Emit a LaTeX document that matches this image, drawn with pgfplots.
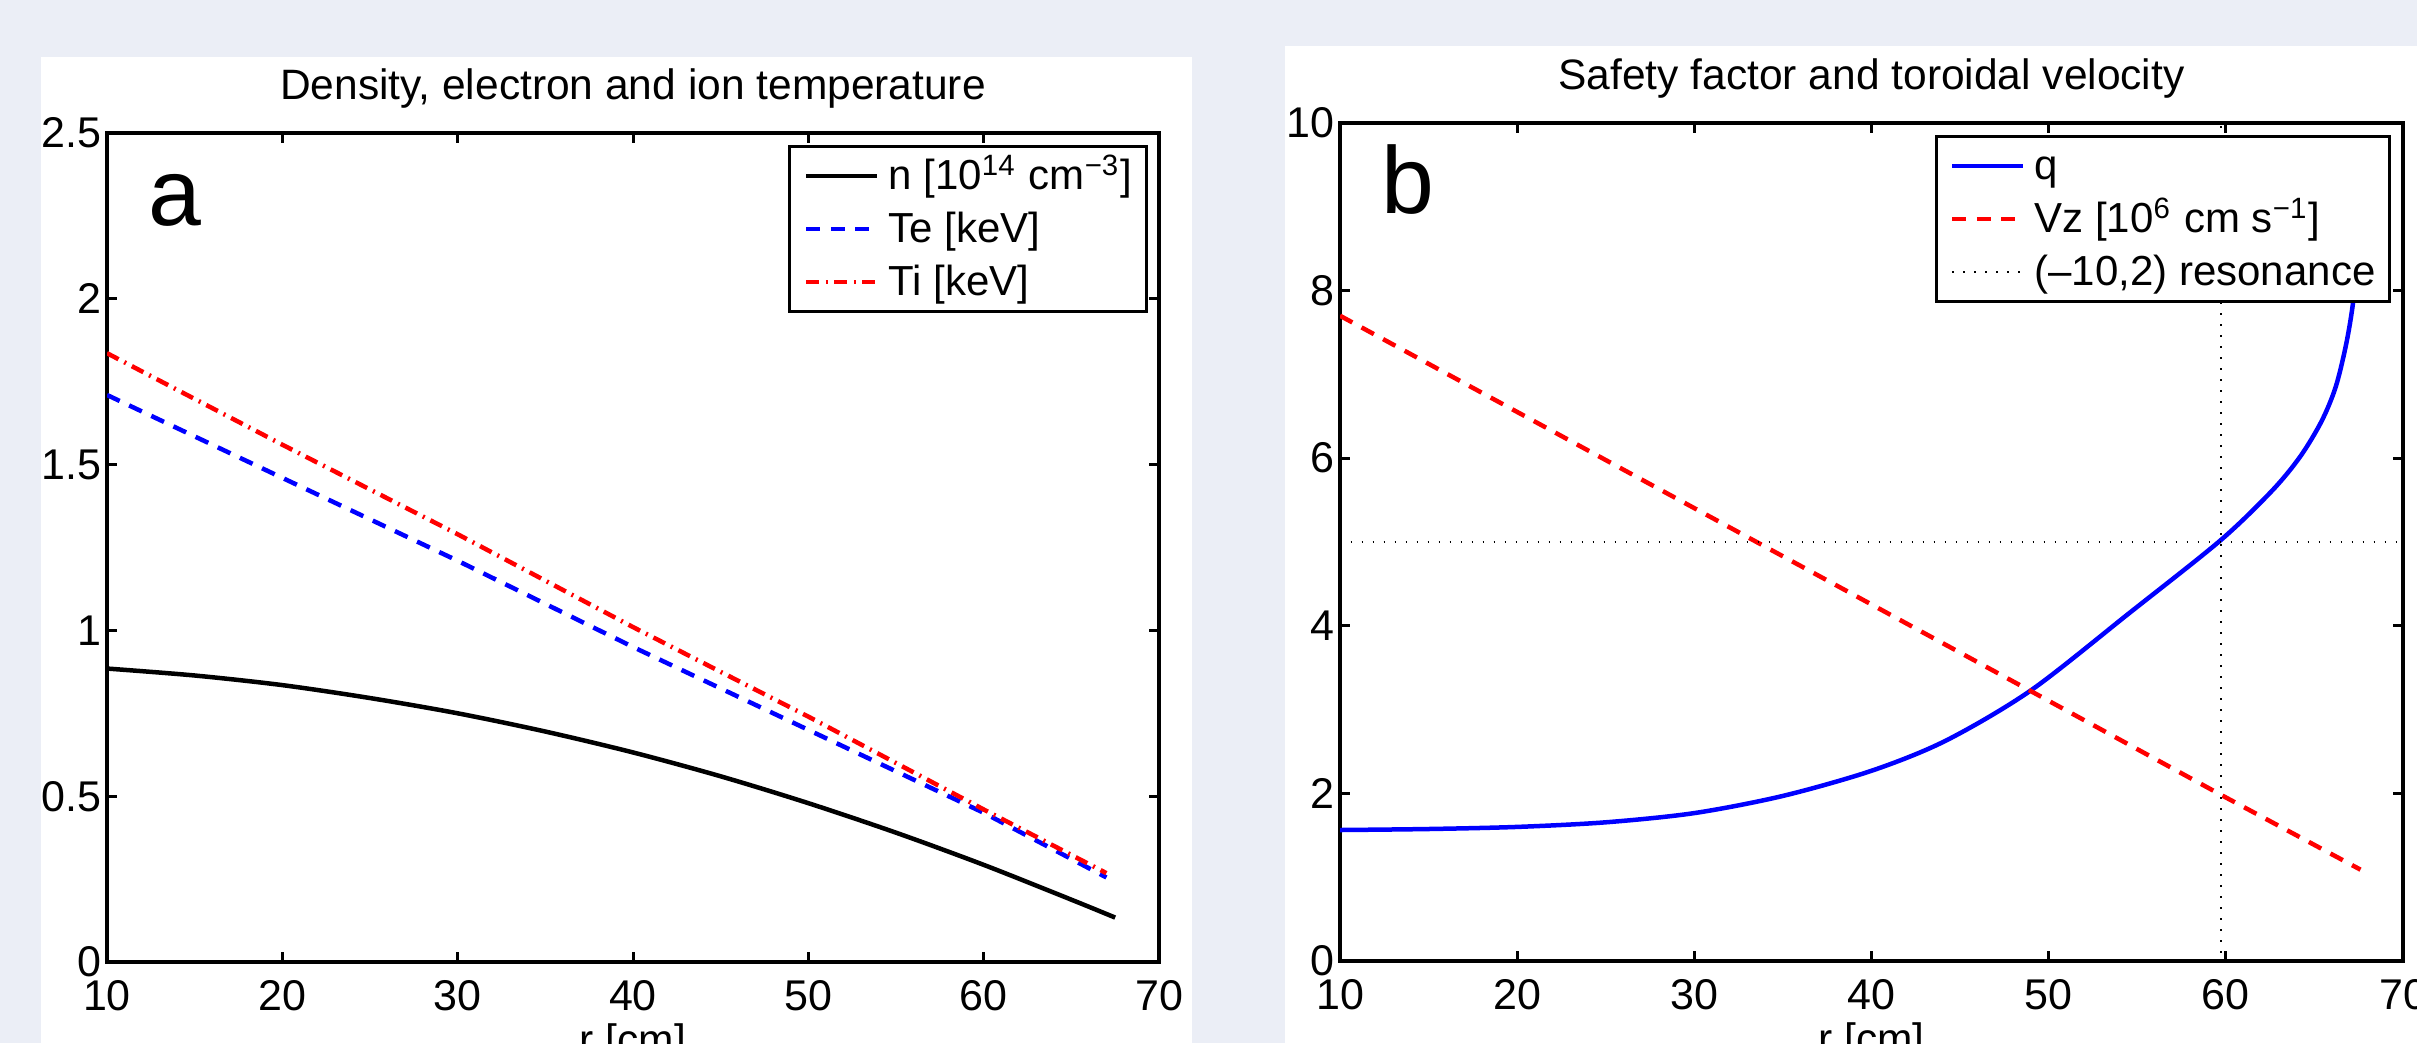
\documentclass[border=0pt]{standalone}
\usepackage{fontspec}
\setmainfont{Liberation Sans}
\usepackage{pgfplots}
\pgfplotsset{compat=1.18}
\definecolor{bgblue}{RGB}{235,238,246}

\pgfplotsset{
  matfig/.style={
    scale only axis, anchor=south west,
    xmin=10, xmax=70, xtick={10,20,...,70},
    tick align=inside, major tick length=2pt,
    axis line style={line width=0.65pt},
    every tick/.style={black, line width=0.6pt},
    tick label style={font=\fontsize{8.6}{10}\selectfont},
    /pgf/number format/assume math mode=true,
    xticklabel style={inner sep=0pt, anchor=north, yshift=-3.4pt},
    yticklabel style={inner sep=0pt, anchor=east, xshift=-0.9pt},
    every axis title shift=0pt,
    title style={at={(axis description cs:0.5,1)}, anchor=base, yshift=6.6pt,
      inner sep=0pt, font=\fontsize{8.5}{10}\selectfont},
    xlabel style={at={(axis description cs:0.5,0)}, anchor=north, inner sep=0pt,
      yshift=-12.2pt, font=\fontsize{8.5}{10}\selectfont},
    legend cell align=left,
    legend image code/.code={\draw[##1] (0pt,0pt) -- (14.2pt,0pt);},
    legend style={anchor=north east, draw=black, line width=0.6pt, fill=white,
      font=\fontsize{8.4}{10}\selectfont, inner xsep=2.8pt, inner ysep=0.6pt,
      row sep=0pt, column sep=1.8pt,
      nodes={inner sep=0pt, text height=8pt, text depth=2.6pt}},
  },
  dashedline/.style={dash pattern=on 2.8pt off 2.1pt},
  dashdotline/.style={dash pattern=on 2.6pt off 1.3pt on 0.4pt off 1.3pt},
  dottedline/.style={dash pattern=on 0.3pt off 1.9pt},
}

\begin{document}
\begin{tikzpicture}
\useasboundingbox (0,0) rectangle (483.4pt,208.6pt);
\clip (0,0) rectangle (483.4pt,208.6pt);
\fill[bgblue] (0,0) rectangle (483.4pt,208.6pt);
\fill[white] (8.2pt,0) rectangle (238.4pt,197.2pt);
\fill[white] (257pt,0) rectangle (483.4pt,199.4pt);

% panel a
\begin{axis}[matfig,
  at={(21.4pt,16.2pt)}, width=210.4pt, height=165.8pt,
  ymin=0, ymax=2.5, ytick={0,0.5,...,2.5},
  title={Density, electron and ion temperature},
  xlabel={r [cm]},
  legend style={at={(0.9895,0.9855)}},
]
\addplot[black, line width=0.9pt, smooth] coordinates {
(10,0.885) (15,0.864) (20,0.835) (25,0.796) (30,0.750) (35,0.695) (40,0.632)
(45,0.560) (50,0.479) (55,0.390) (60,0.293) (65,0.188) (67.5,0.134)};
\addlegendentry{n [10\textsuperscript{14} cm\textsuperscript{−3}]}
\addplot[blue, line width=0.9pt, dashedline] coordinates {
(10,1.71) (20,1.46) (30,1.21) (40,0.95) (50,0.70) (60,0.45) (67,0.255)};
\addlegendentry{Te [keV]}
\addplot[red, line width=0.9pt, dashdotline] coordinates {
(10,1.836) (20,1.56) (30,1.29) (40,1.01) (50,0.74) (60,0.46) (67,0.268)};
\addlegendentry{Ti [keV]}
\node[anchor=base west, inner sep=0pt, font=\fontsize{19}{22}\selectfont] at (axis cs:12.3,2.222) {a};
\end{axis}

% panel b
\begin{axis}[matfig,
  at={(268pt,16.4pt)}, width=212.6pt, height=167.6pt,
  ymin=0, ymax=10, ytick={0,2,...,10},
  title={Safety factor and toroidal velocity},
  xlabel={r [cm]},
  legend style={at={(0.9887,0.9857)}},
]
\addplot[blue, line width=0.9pt, smooth] coordinates {
(10,1.563) (15,1.575) (20,1.60) (25,1.655) (30,1.765) (35,1.97) (40,2.27)
(44.2,2.63) (49,3.23) (54.6,4.16) (59.7,5.02) (62.6,5.61) (64.2,6.02)
(65.4,6.44) (66.2,6.85) (66.8,7.37) (67.2,7.89) (67.5,8.6)};
\addlegendentry{q}
\addplot[red, line width=0.9pt, dashedline] coordinates {
(10,7.70) (33.6,4.99) (49,3.22) (59.75,1.98) (67.6,1.09)};
\addlegendentry{Vz [10\textsuperscript{6} cm s\textsuperscript{−1}]}
\addplot[black, line width=0.4pt, dottedline] coordinates {(10.6,5) (70,5)};
\addlegendentry{(–10,2) resonance}
\addplot[black, line width=0.4pt, dottedline, forget plot] coordinates {(59.75,0.1) (59.75,10)};
\node[anchor=base west, inner sep=0pt, font=\fontsize{19}{22}\selectfont] at (axis cs:12.3,8.914) {b};
\end{axis}
\end{tikzpicture}
\end{document}
